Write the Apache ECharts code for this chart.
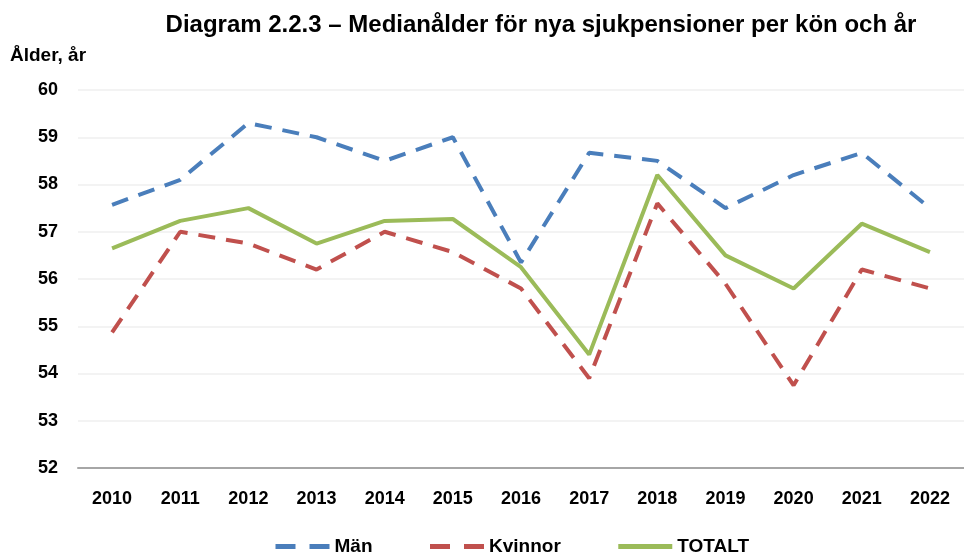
<!DOCTYPE html>
<html>
<head>
<meta charset="utf-8">
<title>Medianålder för nya sjukpensioner</title>
<script src="https://cdn.jsdelivr.net/npm/echarts@6/dist/echarts.min.js"></script>
<style>
  html, body { margin: 0; padding: 0; background: #fff; }
  #chart { width: 964px; height: 553px; }
</style>
</head>
<body>
<div id="chart"></div>
<script>
// år på x-axeln
const years = ['2010', '2011', '2012', '2013', '2014', '2015', '2016', '2017', '2018', '2019', '2020', '2021', '2022'];
// medianålder
const man = [57.57, 58.1, 59.3, 59.0, 58.5, 59.0, 56.35, 58.67, 58.5, 57.5, 58.2, 58.67, 57.5];
const kvinnor = [54.87, 57.0, 56.75, 56.2, 57.0, 56.57, 55.8, 53.9, 57.6, 55.9, 53.75, 56.2, 55.8];
const totalt = [56.65, 57.23, 57.5, 56.75, 57.23, 57.27, 56.25, 54.4, 58.2, 56.5, 55.8, 57.17, 56.57];

const font = 'Liberation Sans';
const blue = '#4a7ebb', red = '#c0504d', green = '#9bbb59';

let myChart = echarts.init(document.getElementById('chart'));

let option = {
  animation: false,
  title: {
    text: 'Diagram 2.2.3 – Medianålder för nya sjukpensioner per kön och år',
    left: 536,
    textAlign: 'center',
    top: 8,
    textStyle: { fontFamily: font, fontSize: 24, fontWeight: 'bold', color: '#000' }
  },
  legend: {
    bottom: -8,
    left: 268,
    itemWidth: 54,
    itemHeight: 10,
    itemGap: 55,
    itemStyle: { opacity: 0 },
    textStyle: { fontFamily: font, fontSize: 19, fontWeight: 'bold', color: '#000' },
    data: [
      { name: 'Män', lineStyle: { width: 5, type: [20, 14] } },
      { name: 'Kvinnor', lineStyle: { width: 5, type: [20, 14] } },
      { name: 'TOTALT', lineStyle: { width: 5 } }
    ]
  },
  grid: {
    left: 78,
    right: 0,
    top: 90,
    bottom: 85
  },
  xAxis: {
    type: 'category',
    data: years,
    boundaryGap: true,
    axisLine: { lineStyle: { color: '#a6a6a6', width: 2 } },
    axisTick: { show: false },
    axisLabel: { fontFamily: font, fontSize: 18, fontWeight: 'bold', color: '#000', margin: 22 }
  },
  yAxis: {
    type: 'value',
    min: 52,
    max: 60,
    interval: 1,
    name: 'Ålder, år',
    nameLocation: 'end',
    nameGap: 25,
    nameTextStyle: { fontFamily: font, fontSize: 19, fontWeight: 'bold', color: '#000', align: 'left', padding: [0, 0, 0, -68] },
    axisLine: { show: false },
    axisTick: { show: false },
    splitLine: { lineStyle: { color: '#efefef', width: 1.5 } },
    axisLabel: { fontFamily: font, fontSize: 18, fontWeight: 'bold', color: '#000', margin: 20 }
  },
  series: [
    {
      name: 'Män',
      type: 'line',
      data: man,
      showSymbol: false,
      symbol: 'none',
      itemStyle: { color: blue },
      lineStyle: { color: blue, width: 4, type: [17, 11] }
    },
    {
      name: 'Kvinnor',
      type: 'line',
      data: kvinnor,
      showSymbol: false,
      symbol: 'none',
      itemStyle: { color: red },
      lineStyle: { color: red, width: 4, type: [17, 11] }
    },
    {
      name: 'TOTALT',
      type: 'line',
      data: totalt,
      showSymbol: false,
      symbol: 'none',
      itemStyle: { color: green },
      lineStyle: { color: green, width: 4 }
    }
  ]
};

myChart.setOption(option);
</script>
</body>
</html>
